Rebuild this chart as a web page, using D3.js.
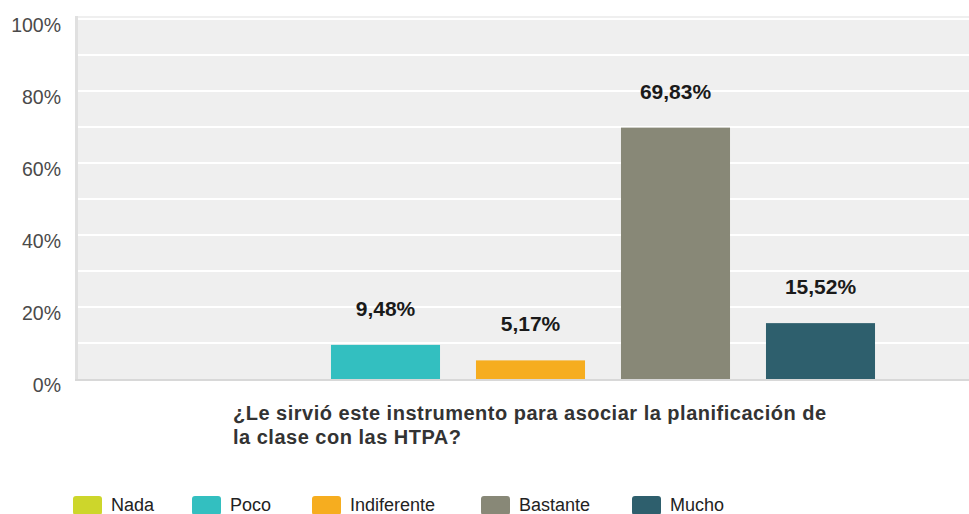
<!DOCTYPE html>
<html>
<head>
<meta charset="utf-8">
<script src="https://cdn.jsdelivr.net/npm/d3@7"></script>
<style>
  body { margin: 0; background: #fff; }
  svg text { font-family: "Liberation Sans", Arial, sans-serif; }
</style>
</head>
<body>
<svg width="969" height="514"></svg>
<script>
var categories = ["Nada", "Poco", "Indiferente", "Bastante", "Mucho"]
var values = [0, 9.48, 5.17, 69.83, 15.52]
var colors = ["#cdd62b", "#33bfc0", "#f6ad1f", "#888877", "#2e5f6d"]
var yTicks = [0, 20, 40, 60, 80, 100]
var gridTicks = [10, 20, 30, 40, 50, 60, 70, 80, 90, 100]
var questionLines = ["¿Le sirvió este instrumento para asociar la planificación de", "la clase con las HTPA?"]

var svg = d3.select("svg")

// plot area
var plotLeft = 78, plotRight = 969, plotTop = 16, plotBottom = 379

var y = d3.scaleLinear()
	.domain([0, 100])
	.range([plotBottom, plotBottom - 360])

var x = d3.scaleBand()
	.domain(categories)
	.range([168, 893])
	.paddingInner(0.248)
	.paddingOuter(0.124)

svg.append("rect")
	.attr("x", plotLeft)
	.attr("y", plotTop)
	.attr("width", plotRight - plotLeft)
	.attr("height", plotBottom - plotTop)
	.attr("fill", "#efefef")

// gridlines
svg.append("g")
	.selectAll("line")
	.data(gridTicks)
	.enter()
	.append("line")
	.attr("x1", plotLeft)
	.attr("x2", plotRight)
	.attr("y1", function(d) { return y(d) })
	.attr("y2", function(d) { return y(d) })
	.attr("stroke", "#ffffff")
	.attr("stroke-width", 2)

// left border and baseline
svg.append("rect")
	.attr("x", plotLeft - 3)
	.attr("y", plotTop)
	.attr("width", 3)
	.attr("height", plotBottom - plotTop + 2)
	.attr("fill", "#e0e0e0")
svg.append("rect")
	.attr("x", plotLeft - 3)
	.attr("y", plotBottom)
	.attr("width", plotRight - plotLeft + 3)
	.attr("height", 2)
	.attr("fill", "#d8d8d8")

// y labels
svg.append("g")
	.selectAll("text")
	.data(yTicks)
	.enter()
	.append("text")
	.attr("x", 61)
	.attr("y", function(d) { return y(d) + 13 })
	.attr("text-anchor", "end")
	.attr("font-size", 19.5)
	.attr("fill", "#4a4a4a")
	.text(function(d) { return d + "%" })

// bars
svg.append("g")
	.selectAll("rect")
	.data(values)
	.enter()
	.append("rect")
	.attr("x", function(d, i) { return x(categories[i]) })
	.attr("y", function(d) { return y(d) })
	.attr("width", x.bandwidth())
	.attr("height", function(d) { return plotBottom - y(d) })
	.attr("fill", function(d, i) { return colors[i] })

// value labels
svg.append("g")
	.selectAll("text")
	.data(values)
	.enter()
	.filter(function(d) { return d > 0 })
	.append("text")
	.attr("x", function(d) { return x(categories[values.indexOf(d)]) + x.bandwidth() / 2 })
	.attr("y", function(d) { return y(d) - 29 })
	.attr("text-anchor", "middle")
	.attr("font-size", 21)
	.attr("font-weight", "bold")
	.attr("fill", "#1a1a1a")
	.text(function(d) { return d.toFixed(2).replace(".", ",") + "%" })

// question
svg.append("g")
	.selectAll("text")
	.data(questionLines)
	.enter()
	.append("text")
	.attr("x", 233)
	.attr("y", function(d, i) { return 420 + i * 24 })
	.attr("font-size", 20)
	.attr("font-weight", "bold")
	.attr("letter-spacing", 0.5)
	.attr("fill", "#333333")
	.text(function(d) { return d })

// legend
var legendX = [73, 192, 312, 481, 632]
var legend = svg.append("g")
	.selectAll("g")
	.data(categories)
	.enter()
	.append("g")
	.attr("transform", function(d, i) { return "translate(" + legendX[i] + ",496)" })
legend.append("rect")
	.attr("width", 29)
	.attr("height", 19)
	.attr("rx", 3)
	.attr("fill", function(d, i) { return colors[i] })
legend.append("text")
	.attr("x", 38)
	.attr("y", 15)
	.attr("font-size", 18)
	.attr("fill", "#222222")
	.text(function(d) { return d })
</script>
</body>
</html>
